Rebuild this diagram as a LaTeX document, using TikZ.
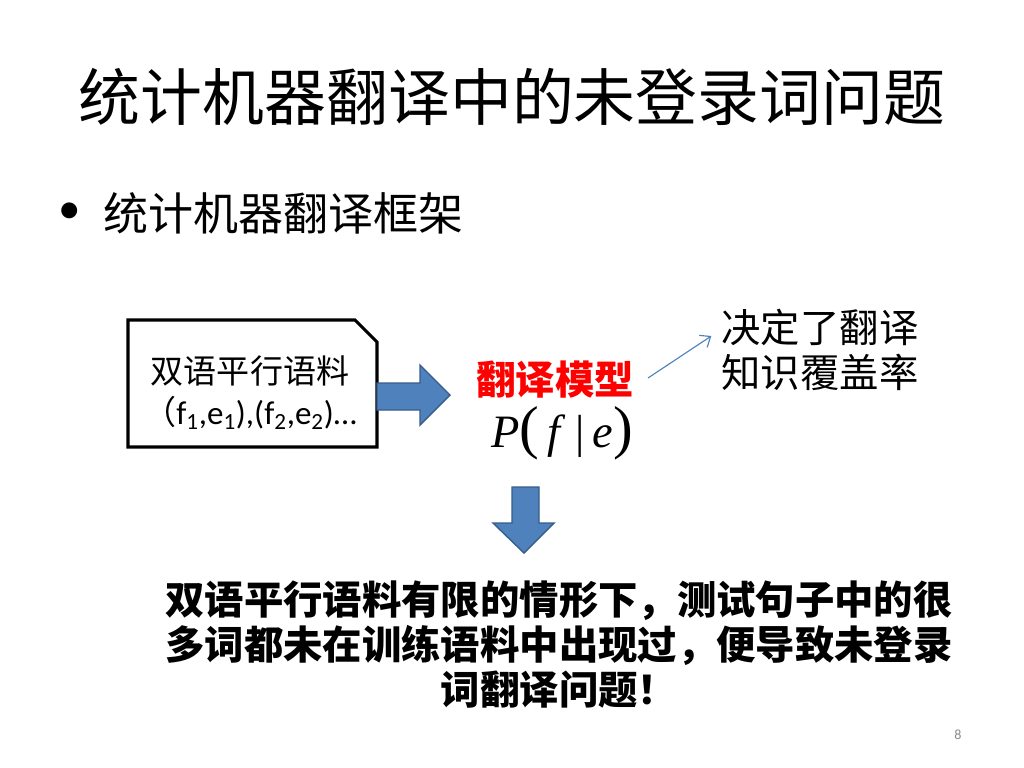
\documentclass[tikz,border=0pt]{standalone}
\usepackage{fontspec}
\setmainfont{Carlito}
\newfontfamily\cjk{Noto Sans CJK SC}
\newfontfamily\timesfont{Liberation Serif}
\usetikzlibrary{arrows.meta}
\definecolor{slideBlue}{HTML}{4F81BD}
\definecolor{slideBlueDark}{HTML}{385D8A}
\definecolor{slideRed}{HTML}{FF0000}
\definecolor{slideGrey}{HTML}{8C8C8C}
\newcommand{\bigparen}[1]{{\upshape\fontsize{42}{44}\selectfont#1}}

\begin{document}
\begin{tikzpicture}[x=0.025cm,y=-0.025cm]
    \tikzset{
        txt/.style={inner sep=0pt},
        blockarrow/.style={fill=slideBlue,draw=slideBlueDark,line width=1pt,line join=miter},
        thinarrow/.style={draw=slideBlue,line width=0.8pt,-{Straight Barb[length=2.2mm,width=3.6mm]}}
    }
    \useasboundingbox[fill=white] (0,0) rectangle (1024,768);
    \node[txt,font=\cjk\fontsize{44}{50}\selectfont] (title) at (512,97) {统计机器翻译中的未登录词问题};
    \node[txt,font=\fontsize{32}{36}\selectfont] (bullet) at (70,213) {\textbullet};
    \node[txt,anchor=west,font=\cjk\fontsize{32}{36}\selectfont] (frame) at (103,213) {统计机器翻译框架};
    \draw[line width=2.2pt,line join=miter] (128,320) -- (355,320) -- (377,342) -- (377,447) -- (128,447) -- cycle;
    \node[txt,align=center,font=\fontsize{23.5}{29}\selectfont] (corpus) at (250,393)
        {{\cjk 双语平行语料}\\{\cjk （}f\textsubscript{1},e\textsubscript{1}),(f\textsubscript{2},e\textsubscript{2})…};
    \filldraw[blockarrow] (377,383) -- (420,383) -- (420,365) -- (450,395) -- (420,425) -- (420,410) -- (377,410) -- cycle;
    \node[txt,text=slideRed,font=\cjk\bfseries\fontsize{28}{32}\selectfont] (model) at (555,380) {翻译模型};
    \node[txt,anchor=base,font=\timesfont\itshape\fontsize{33}{38}\selectfont] (prob) at (562,447)
        {P\bigparen{(}\,f\,\,{\upshape|}\,e\bigparen{)}};
    \node[txt,align=left,font=\cjk\fontsize{28}{32}\selectfont] (note) at (820,350) {决定了翻译\\知识覆盖率};
    \draw[thinarrow] ([shift={(14,-2)}]model.east) -- ([shift={(-10,-14)}]note.west);
    \filldraw[blockarrow] (512,487) -- (539,487) -- (539,523) -- (554,523) -- (524,553) -- (493,523) -- (512,523) -- cycle;
    \node[txt,align=center,font=\cjk\bfseries\fontsize{28}{32}\selectfont] (result) at (559,645)
        {双语平行语料有限的情形下，测试句子中的很\\多词都未在训练语料中出现过，便导致未登录\\词翻译问题！};
    \node[txt,text=slideGrey,font=\fontsize{10}{12}\selectfont] (pagenum) at (958,735) {8};
\end{tikzpicture}
\end{document}
